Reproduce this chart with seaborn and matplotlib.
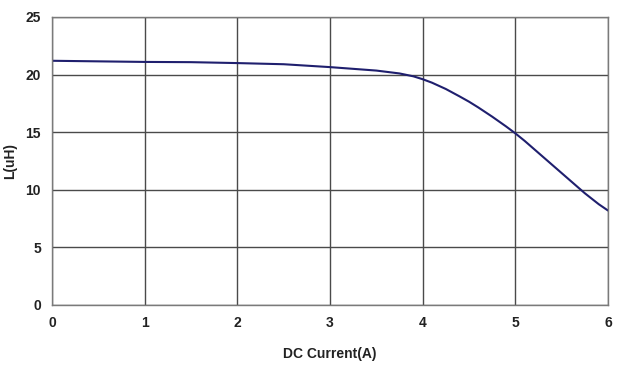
import matplotlib
matplotlib.use("Agg")
import matplotlib.pyplot as plt
import seaborn as sns
import pandas as pd

current = [0.0, 0.5, 1.0, 1.5, 2.0, 2.5, 3.0, 3.25, 3.5, 3.75, 3.9, 4.0, 4.1, 4.25, 4.4, 4.5, 4.6, 4.75, 4.9, 5.0, 5.1, 5.25, 5.4, 5.5, 5.6, 5.75, 5.9, 6.0]
inductance = [21.2, 21.15, 21.1, 21.08, 21.0, 20.9, 20.65, 20.5, 20.35, 20.1, 19.85, 19.6, 19.3, 18.75, 18.1, 17.65, 17.15, 16.35, 15.5, 14.9, 14.25, 13.2, 12.15, 11.45, 10.75, 9.7, 8.75, 8.2]
x_ticks = [0, 1, 2, 3, 4, 5, 6]
y_ticks = [0, 5, 10, 15, 20, 25]

sns.set_style("white")
plt.rcParams['font.family'] = ['Liberation Sans', 'DejaVu Sans']

fig = plt.figure(figsize=(6.19, 3.68), dpi=100)
ax = fig.add_axes([52/619, 1 - 305/368, (608-52)/619, (305-17)/368])

df = pd.DataFrame({"I": current, "L": inductance})
sns.lineplot(data=df, x="I", y="L", ax=ax, color="#1f1f6e", linewidth=1.5)

ax.set_xlim(0, 6)
ax.set_ylim(0, 25)
ax.set_xticks(x_ticks)
ax.set_yticks(y_ticks)
ax.grid(True, color="#4a4a4a", linewidth=1.0)
for s in ax.spines.values():
    s.set_color("#7a7a7a")
    s.set_linewidth(1.0)
ax.tick_params(length=0, pad=8, labelsize=10)
for lab in ax.get_xticklabels() + ax.get_yticklabels():
    lab.set_fontweight("bold")
    lab.set_color("#222222")
ax.set_xlabel("DC Current(A)", fontsize=10, fontweight="bold", color="#222222", labelpad=12)
ax.set_ylabel("L(uH)", fontsize=10, fontweight="bold", color="#222222", labelpad=6)

fig.savefig("out.png", dpi=100)
